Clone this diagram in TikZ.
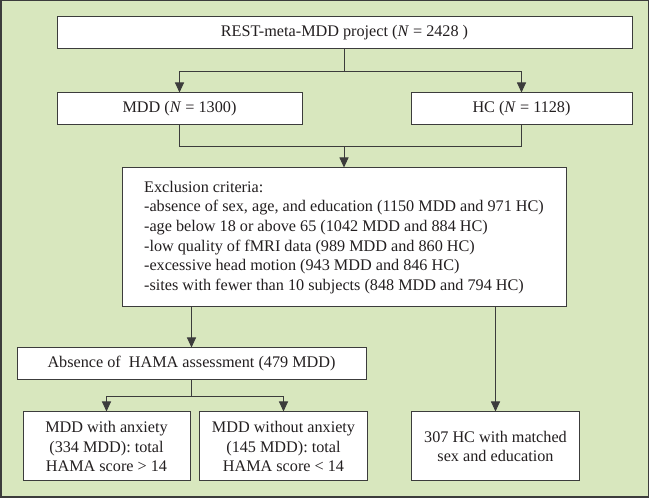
\documentclass[tikz,border=0pt]{standalone}
\usepackage{fontspec}
\setmainfont{Liberation Serif}
\usepackage{xcolor}
\usepackage{tikz}
\usetikzlibrary{positioning,arrows.meta,calc}
\definecolor{panelgreen}{RGB}{216,231,190}
\definecolor{edgegray}{RGB}{60,60,60}
\definecolor{inkgray}{RGB}{35,31,32}
\tikzset{
  blk/.style   = {draw=edgegray, line width=1pt, fill=white, align=center,
                  inner sep=2pt, text=inkgray},
  wide/.style  = {blk, minimum height=32pt},
  tall/.style  = {blk, minimum height=69pt, minimum width=168pt},
  ar/.style    = {-{Triangle[length=10pt,width=9pt]}, line width=0.9pt, draw=edgegray},
  ln/.style    = {line width=0.9pt, draw=edgegray},
}
\newcommand{\Nit}{\textit{N}}

\begin{document}
\begin{tikzpicture}[x=1pt, y=1pt, font=\fontsize{16.2}{19.6}\selectfont]

% ===== panel =====
\useasboundingbox (0,0) rectangle (649,498);
\draw[draw=edgegray, line width=1.5pt, fill=panelgreen] (0.75,0.75) rectangle (648.25,497.25);

% ===== boxes =====
\node[wide, minimum width=575pt] (project) at (344.5,465)
     {REST-meta-MDD project (\Nit{} = 2428 )};
\node[wide, minimum width=245pt] (mdd) at (179.5,389) {MDD (\Nit{} = 1300)};
\node[wide, minimum width=221pt] (hc) at (521.5,389) {HC (\Nit{} = 1128)};

\node[blk, minimum width=444pt, minimum height=139pt, align=left]
     (excl) at (344,260.5)
     {Exclusion criteria:\\
      -absence of sex, age, and education (1150 MDD and 971 HC)\\
      -age below 18 or above 65 (1042 MDD and 884 HC)\\
      -low quality of fMRI data (989 MDD and 860 HC)\\
      -excessive head motion (943 MDD and 846 HC)\\
      -sites with fewer than 10 subjects (848 MDD and 794 HC)};

\node[wide, minimum width=349pt] (hama) at (191.5,134)
     {Absence of~ HAMA assessment (479 MDD)};

\node[tall, minimum width=167pt] (anx) at (106.5,51.5)
     {MDD with anxiety\\(334 MDD): total\\HAMA score > 14};
\node[tall] (noanx) at (283.5,51.5)
     {MDD without anxiety\\(145 MDD): total\\HAMA score < 14};
\node[tall] (hcmatch) at (495.5,51.5)
     {307 HC with matched\\sex and education};

% ===== connections =====
\draw[ar] (project.south) -- ++(0,-22) -| (mdd.north);
\draw[ar] (project.south) -- ++(0,-22) -| (hc.north);
\draw[ln] (mdd.south) -- ++(0,-21) coordinate (join) -| (hc.south);
\draw[ar] (join -| excl.north) -- (excl.north);
\draw[ar] (excl.south -| hama.north) -- (hama.north);
\draw[ar] (excl.south -| hcmatch.north) -- (hcmatch.north);
\draw[ar] (hama.south) -- ++(0,-16) -| (anx.north);
\draw[ar] (hama.south) -- ++(0,-16) -| (noanx.north);
\end{tikzpicture}
\end{document}
